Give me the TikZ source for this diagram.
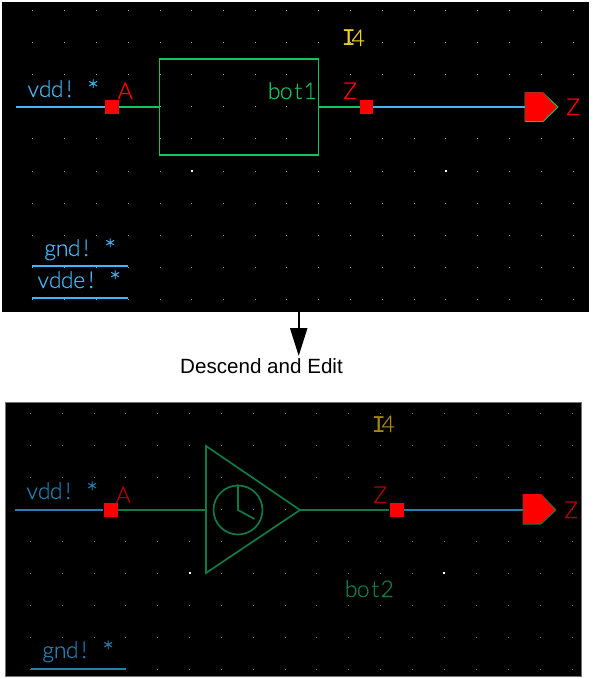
\documentclass[tikz,border=0pt]{standalone}
\usepackage{fontspec}
\setmainfont{Liberation Sans}
\newfontfamily\cadfont[FakeBold=0.35]{Lato Light}
\newfontfamily\cadserif{Liberation Mono}
\usetikzlibrary{arrows.meta}
\definecolor{tblue}{HTML}{45B4F0}
\definecolor{tgreen}{HTML}{14C060}
\definecolor{tyellow}{HTML}{F0D020}
\definecolor{bblue}{HTML}{2080B0}
\definecolor{bgreen}{HTML}{0F7A45}
\definecolor{bred}{HTML}{B00000}
\definecolor{byellow}{HTML}{A88A00}
% the stroke font of the reference is monospaced: set each letter in a 12pt cell
\newcommand\cells[1]{\cellsloop#1\relax}
\def\cellsloop#1{\ifx#1\relax\else\hbox to 12pt{\hss#1\hss}\expandafter\cellsloop\fi}
\newcommand\cadsetup{\cadfont\fontsize{23}{23}\selectfont\spaceskip 12pt\relax}
\newcommand\cadstar{\hbox to 12pt{\hss\lower 4pt\hbox{\fontsize{29}{29}\selectfont *}\hss}}
\newcommand\cadI{\hbox to 7pt{\hss{\cadserif\fontsize{24}{24}\selectfont I}\hss}}
\tikzset{
  x=1pt,y=-1pt,
  cad/.style={anchor=base west,inner sep=0pt,font=\cadsetup},
  pinsq/.style={rectangle,fill=red,draw=none,minimum width=14pt,minimum height=14pt,inner sep=0pt},
  twire/.style={line width=1.3pt},
  bwire/.style={line width=1.7pt},
}
\begin{document}
\begin{tikzpicture}
\useasboundingbox (0,0) rectangle (592,679);
\fill[white] (0,0) rectangle (592,679);
% panels
\fill[black] (2,2) rectangle (589,312);
\filldraw[fill=black,draw=black!55,line width=.8pt] (5.5,402) rectangle (581,676);
% grids
\foreach \x in {32,64,96,128,160,191.5,223.5,255.5,286.5,318,350,382.5,414,445.5,477,509,541,573}
  \foreach \y in {11,43,75,107,139,171,203,235,267,299}
    \fill[black!35!white] (\x-.5,\y-.5) rectangle (\x+.5,\y+.5);
\foreach \x in {30.7,62.7,94.7,125.5,157.5,189.7,221,253,285,316.7,348.7,380.7,412,444,476,508,540,572}
  \foreach \y in {413,445.7,477.7,509.7,541.7,573,605,637,669}
    \fill[black!55] (\x-.5,\y-.5) rectangle (\x+.5,\y+.5);
\fill[white] (190.5,170) rectangle (192.5,172);
\fill[white] (444.5,170) rectangle (446.5,172);
\fill[white] (188.7,572) rectangle (190.7,574);
\fill[white] (443,572) rectangle (445,574);

% ---- top schematic
\node[draw=tgreen,twire,minimum width=159pt,minimum height=96pt,inner sep=0pt] (topbox) at (239,107) {};
\coordinate (topfree) at (16,107);
\node[pinsq] (topA) at (112,107) {};
\node[pinsq,minimum width=13pt] (topZ) at (366.5,107) {};
\coordinate (toppin) at (525,107);
\draw[tblue,twire] (topfree) -- (topA);
\draw[tgreen,twire] (topA) -- (topbox.west |- topA);
\draw[tgreen,twire] (topbox.east |- topZ) -- (topZ);
\draw[tblue,twire] (topZ) -- (toppin);
\filldraw[fill=red,draw=tgreen,line width=1pt] (525,93) -- (543,93) -- (558,107) -- (543,121.5) -- (525,121.5) -- cycle;
\fill[red] (525,92.5) -- (543,92.5) -- (556,107) -- (543,120.7) -- (525,120.7) -- cycle;
\node[cad,text=tblue] (tvdd) at (27,97) {\cells{vdd!} \cadstar};
\node[cad,text=red] (tA) at (119,99) {\cells{A}};
\node[cad,text=tgreen] (tbot) at (268,99) {\cells{bot1}};
\node[cad,text=red] (tZ) at (344,99) {\cells{Z}};
\node[cad,text=red] (tZr) at (567,115) {\cells{Z}};
\node[cad,text=tyellow] (tI) at (345,46) {\cadI\cells{4}};
\node[cad,text=tblue] (tgnd) at (44,256) {\cells{gnd!} \cadstar};
\node[cad,text=tblue] (tvdde) at (37,288) {\cells{vdde!} \cadstar};
\coordinate (tgl) at (32,266); \coordinate (tgr) at (128,266);
\coordinate (tvl) at (32,298); \coordinate (tvr) at (128,298);
\draw[tblue,twire] (tgl) -- (tgr);
\draw[tblue,twire] (tvl) -- (tvr);

% ---- arrow between panels
\coordinate (arrfrom) at (298.7,312);
\coordinate (arrto) at (298.7,356);
\draw[line width=2.3pt,-{Triangle[length=28pt,width=17pt]}] (arrfrom) -- (arrto);
\node[anchor=base west,inner sep=0pt,font=\fontsize{20.6}{21}\selectfont] (desc) at (180,373) {Descend and Edit};

% ---- bottom schematic
\coordinate (botfree) at (15,510);
\node[pinsq] (botA) at (110.5,510) {};
\node[pinsq] (botZ) at (396.5,510) {};
\coordinate (triW) at (206,510);
\coordinate (triE) at (300,510);
\coordinate (botpin) at (523,510);
\draw[bgreen,bwire] (206,446) -- (300,510) -- (206,573) -- cycle;
\node[draw=bgreen,bwire,circle,minimum size=49pt,inner sep=0pt] (clock) at (238,510) {};
\draw[bgreen,bwire] (clock.north) -- (clock.center) -- (254.5,519);
\draw[bblue,bwire] (botfree) -- (botA);
\draw[bgreen,bwire] (botA) -- (triW);
\draw[bgreen,bwire] (triE) -- (botZ);
\draw[bblue,bwire] (botZ) -- (botpin);
\filldraw[fill=red,draw=bgreen,line width=1pt] (523,494.5) -- (541,494.5) -- (556,510) -- (541,524) -- (523,524) -- cycle;
\fill[red] (523,494) -- (541,494) -- (554.5,510) -- (541,523) -- (523,523) -- cycle;
\node[cad,text=bblue] (bvdd) at (26,499) {\cells{vdd!} \cadstar};
\node[cad,text=bred] (bA) at (117,503) {\cells{A}};
\node[cad,text=bred] (bZ) at (374,503) {\cells{Z}};
\node[cad,text=bred] (bZr) at (565,518) {\cells{Z}};
\node[cad,text=byellow] (bI) at (375,432) {\cadI\cells{4}};
\node[cad,text=bgreen] (bbot) at (345,597) {\cells{bot2}};
\node[cad,text=bblue] (bgnd) at (42,658) {\cells{gnd!} \cadstar};
\coordinate (bgl) at (30.5,669); \coordinate (bgr) at (126,669);
\draw[bblue,bwire] (bgl) -- (bgr);
\end{tikzpicture}
\end{document}
